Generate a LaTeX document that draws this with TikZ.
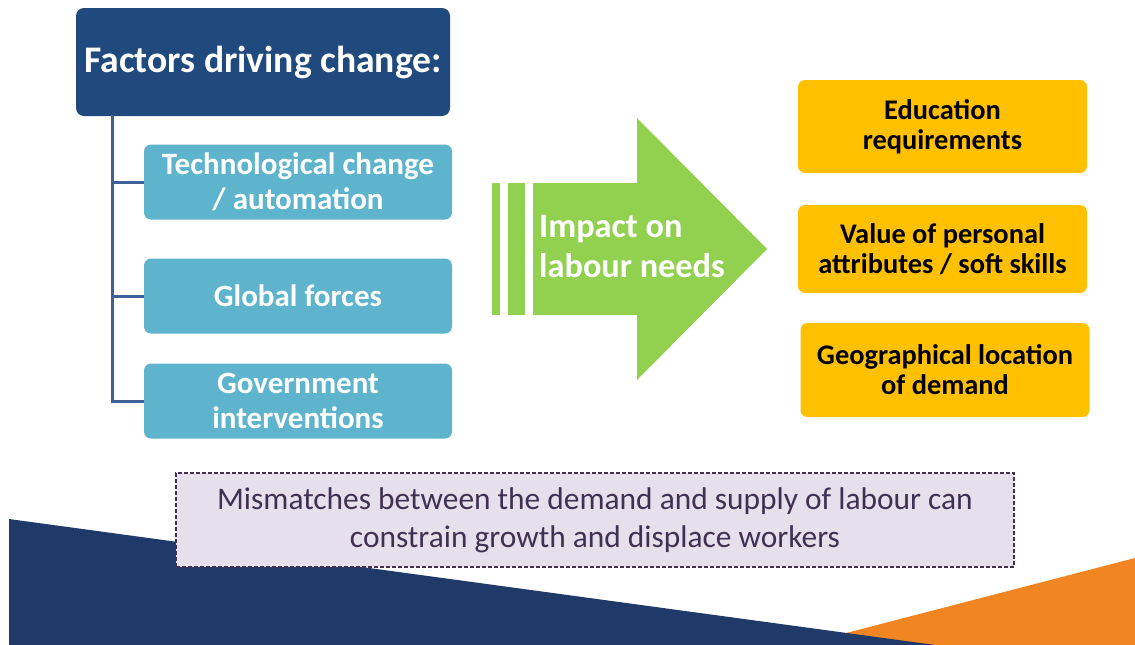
\documentclass[tikz,border=0pt]{standalone}
\usepackage{fontspec}
\setmainfont{Carlito}
\definecolor{hdrblue}{RGB}{32,73,125}
\definecolor{linkblue}{RGB}{62,96,152}
\definecolor{factcyan}{RGB}{94,180,204}
\definecolor{arrowgreen}{RGB}{146,208,80}
\definecolor{impactgold}{RGB}{255,192,0}
\definecolor{noteback}{RGB}{229,224,236}
\definecolor{noteline}{RGB}{64,49,82}
\definecolor{basenavy}{RGB}{31,58,104}
\definecolor{baseorange}{RGB}{240,133,34}
\begin{document}
\begin{tikzpicture}[x=1pt,y=-1pt,
	factor/.style={fill=factcyan,rounded corners=7pt,minimum width=308pt,minimum height=75pt,text=white,align=center,font=\bfseries\fontsize{31}{35}\selectfont},
	impact/.style={fill=impactgold,rounded corners=7pt,minimum width=289pt,text=black,align=center,font=\bfseries\fontsize{28.4}{30}\selectfont},
	branch/.style={draw=linkblue,line width=3pt}]
	\useasboundingbox (0,0) rectangle (1135,645);
	% Background
	\fill [baseorange] (800,645) -- (1135,558) -- (1135,645) -- cycle;
	\fill [basenavy] (9,519) -- (935,645) -- (9,645) -- cycle;
	% Factors
	\node [fill=hdrblue,rounded corners=8pt,minimum width=374pt,minimum height=108pt,text=white,font=\bfseries\fontsize{37.6}{42}\selectfont] (hdr) at (263,62) {Factors driving change:};
	\node [factor] (tech) at (298,182) {Technological change\\/ automation};
	\node [factor] (glob) at (298,296) {Global forces};
	\node [factor] (gov) at (298,401) {Government\\interventions};
	\coordinate (trunk) at (112,115);
	\draw [branch] (trunk) |- (tech.west);
	\draw [branch] (trunk) |- (glob.west);
	\draw [branch] (trunk) |- (gov.west);
	% Arrow
	\fill [arrowgreen] (492,183) rectangle (500,315);
	\fill [arrowgreen] (508,183) rectangle (525,315);
	\fill [arrowgreen] (533,183) -- (637,183) -- (637,118) -- (767,249) -- (637,380) -- (637,315) -- (533,315) -- cycle;
	\node [anchor=west,text=white,align=left,inner sep=0pt,font=\bfseries\fontsize{34.3}{40}\selectfont] (need) at (539,247) {Impact on\\labour needs};
	% Impacts
	\node [impact,minimum height=93pt] (edu) at (942.5,126.5) {Education\\requirements};
	\node [impact,minimum height=88pt] (soft) at (942.5,249) {Value of personal\\attributes / soft skills};
	\node [impact,minimum height=94pt] (geo) at (945,370) {Geographical location\\of demand};
	% Mismatch
	\node [fill=noteback,draw=noteline,line width=1.2pt,dash pattern=on 4pt off 2pt,minimum width=838pt,minimum height=94pt,text=noteline,align=center,font=\fontsize{31.4}{38}\selectfont] (gap) at (595,520) {Mismatches between the demand and supply of labour can\\constrain growth and displace workers};
\end{tikzpicture}
\end{document}
